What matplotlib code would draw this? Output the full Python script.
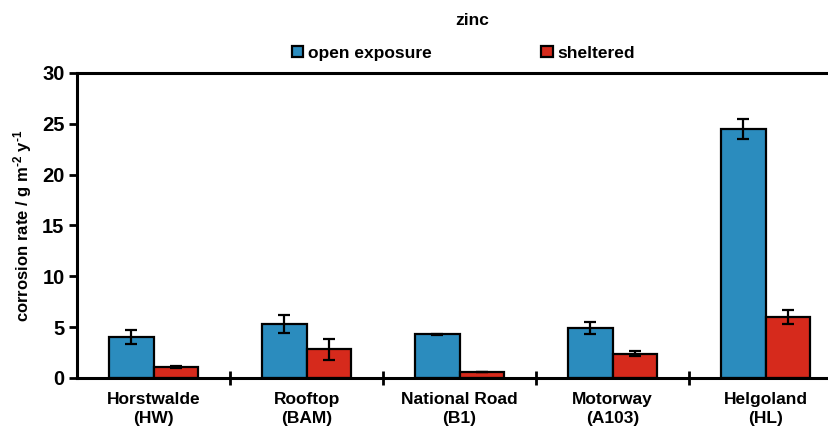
import matplotlib.pyplot as plt
import numpy as np
from matplotlib.ticker import FixedLocator

plt.rcParams['font.family'] = ['Liberation Sans', 'DejaVu Sans']
plt.rcParams['font.weight'] = 'bold'
plt.rcParams['mathtext.fontset'] = 'custom'
plt.rcParams['mathtext.bf'] = 'Liberation Sans:bold'
plt.rcParams['mathtext.rm'] = 'Liberation Sans:bold'
plt.rcParams['mathtext.default'] = 'bf'

sites = ["Horstwalde\n(HW)", "Rooftop\n(BAM)", "National Road\n(B1)",
         "Motorway\n(A103)", "Helgoland\n(HL)"]
open_rate = [4.0, 5.3, 4.3, 4.9, 24.5]
open_err = [0.7, 0.9, 0.05, 0.6, 1.0]
sheltered_rate = [1.1, 2.8, 0.6, 2.4, 6.0]
sheltered_err = [0.1, 1.0, 0.0, 0.25, 0.7]

blue = "#2b8cbe"
red = "#d62a1c"
width = 0.29

fig = plt.figure(figsize=(8.29, 4.29), dpi=100)
ax = fig.add_axes([0.093, 0.119, 0.907, 0.711])

x = np.arange(len(sites))
err_kw = dict(elinewidth=1.6, capthick=1.6, capsize=4, ecolor="black")
ax.bar(x - width / 2, open_rate, width, yerr=open_err, color=blue,
       edgecolor="black", linewidth=1.6, error_kw=err_kw, label="open exposure")
ax.bar(x + width / 2, sheltered_rate, width, yerr=sheltered_err, color=red,
       edgecolor="black", linewidth=1.6, error_kw=err_kw, label="sheltered")

ax.set_ylim(0, 30)
ax.set_xlim(-0.5, 4.415)
ax.set_yticks(range(0, 31, 5))
ax.tick_params(axis="y", direction="out", length=6, width=2, labelsize=14.5, pad=3)

# sites sit between separator ticks on the category axis
ax.xaxis.set_major_locator(FixedLocator(x))
ax.set_xticklabels(sites, fontsize=12.5, fontweight="bold", linespacing=1.35)
ax.xaxis.set_minor_locator(FixedLocator(x[:-1] + 0.5))
ax.tick_params(axis="x", which="major", length=0, pad=10)
ax.tick_params(axis="x", which="minor", direction="inout", length=10, width=2)

for side in ("left", "bottom", "top"):
    ax.spines[side].set_linewidth(2.2)
ax.spines["right"].set_visible(False)

ax.set_ylabel("corrosion rate / g m$^{\u20102}$ y$^{\u20101}$",
              fontsize=12, fontweight="bold", labelpad=6)

fig.text(0.569, 0.953, "zinc", ha="center", va="center", fontsize=12.5, fontweight="bold")
fig.legend(loc="center", bbox_to_anchor=(0.559, 0.876), ncol=2, frameon=False,
           fontsize=12.5, handlelength=0.65, handleheight=0.65, handletextpad=0.3,
           columnspacing=6.3)

fig.savefig("out.png", dpi=100)
